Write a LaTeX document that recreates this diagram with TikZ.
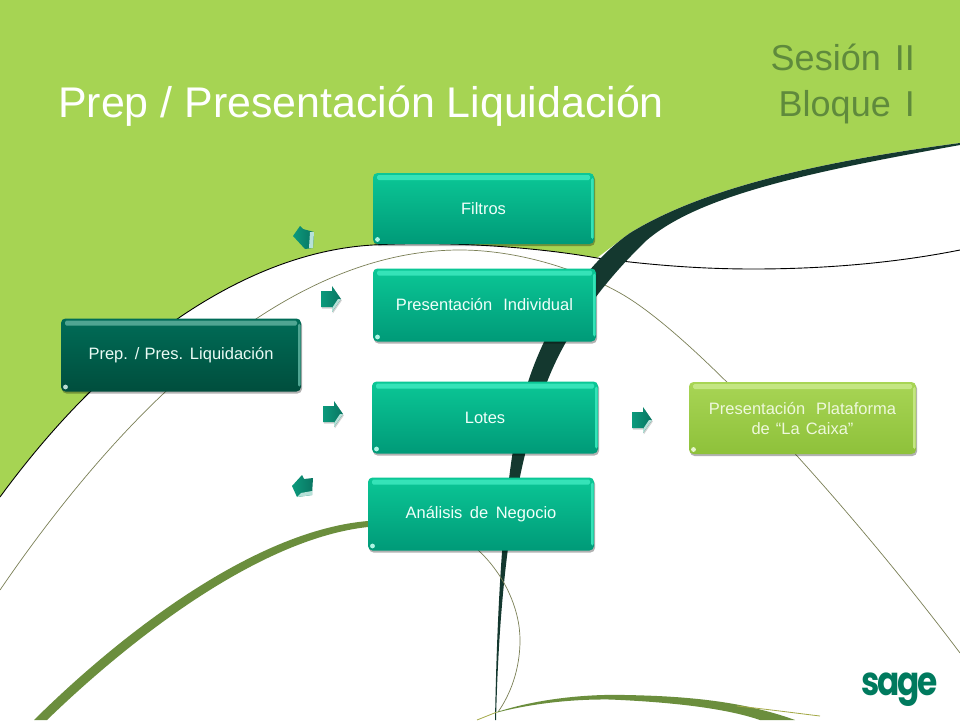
\documentclass[tikz,border=0pt]{standalone}
\usepackage{fontspec}
\usetikzlibrary{shadows}
\setmainfont{Liberation Sans}
\newfontfamily\lblfont{Liberation Sans}
\newfontfamily\logofont[LetterSpace=-7]{Poppins}
\definecolor{bggreen}{HTML}{A6D453}
\definecolor{darkband}{HTML}{14382F}
\definecolor{oliveband}{HTML}{6B8E3D}
\definecolor{thinline}{HTML}{7A7F55}
\definecolor{sesion}{HTML}{5F8A3C}
\definecolor{logogreen}{HTML}{007A5E}
\definecolor{arrowA}{HTML}{0B9A7C}
\definecolor{arrowB}{HTML}{0A7562}
\definecolor{tealT}{HTML}{0BC796}
\definecolor{tealB}{HTML}{009A78}
\definecolor{tealH}{HTML}{35E3B8}
\definecolor{tealX}{HTML}{F0FFFA}
\definecolor{deepT}{HTML}{006C57}
\definecolor{deepB}{HTML}{004E3D}
\definecolor{deepH}{HTML}{4FA592}
\definecolor{deepX}{HTML}{EAFBF5}
\definecolor{limeT}{HTML}{A8D555}
\definecolor{limeB}{HTML}{8EC13A}
\definecolor{limeH}{HTML}{C4E683}
\definecolor{limeX}{HTML}{EEF8DC}
\definecolor{swoosh}{HTML}{A3A845}
\tikzset{
  glossbox/.style args={#1/#2/#3/#4}{
    rounded corners=4.5pt, inner sep=0pt, align=center,
    font=\lblfont\fontsize{16.5}{20}\selectfont, text=#4,
    top color=#1, bottom color=#2,
    drop shadow={shadow xshift=1pt,shadow yshift=-2pt,opacity=.3,fill=black},
    path picture={
      \fill[#3,rounded corners=1.5pt] ([xshift=4pt,yshift=-2pt]path picture bounding box.north west) rectangle ([xshift=-4pt,yshift=-7pt]path picture bounding box.north east);
      \fill[#3,rounded corners=1.5pt] ([xshift=-3pt,yshift=-5pt]path picture bounding box.north east) rectangle ([xshift=-0.5pt,yshift=5pt]path picture bounding box.south east);
      \fill[white!60!#3] ([xshift=4.5pt,yshift=4.5pt]path picture bounding box.south west) circle (2.4pt);
    }},
  tealbox/.style={glossbox=tealT/tealB/tealH/tealX},
  deepbox/.style={glossbox=deepT/deepB/deepH/deepX},
  limebox/.style={glossbox=limeT/limeB/limeH/limeX},
  thincurve/.style={draw=thinline,line width=0.7pt},
  arrowfill/.style={left color=arrowA,right color=arrowB},
  rarrow/.pic={
    \fill[black,opacity=.18,xshift=0.8pt,yshift=-1.5pt] (-10,-8)--(1,-8)--(1,-13)--(10,0)--(1,13)--(1,8)--(-10,8)--cycle;
    \path[arrowfill] (-10,-8)--(1,-8)--(1,-13)--(10,0)--(1,13)--(1,8)--(-10,8)--cycle;
    \fill[white!70!arrowA] (10,0)--(1,13)--(1,9)--(7,0)--cycle;
  }
}
\begin{document}
\begin{tikzpicture}[x=1pt,y=-1pt]
\useasboundingbox (0,0) rectangle (960,720);
\fill[bggreen] (0,0) rectangle (960,720);
% white area under the sweeping curve
\fill[white] (0,497) .. controls (115,340) and (250,252) .. (373,245)
  .. controls (440,241) and (530,246) .. (597,258) -- (630,233)
  .. controls (700,190) and (810,163) .. (960,143)
  -- (960,720) -- (0,720) -- cycle;
% black edge and its continuation
\draw[black,line width=0.9pt] (0,497) .. controls (115,340) and (250,252) .. (373,245)
  .. controls (440,241) and (530,246) .. (597,258)
  .. controls (650,265) and (700,269) .. (753,269)
  .. controls (830,269) and (900,262) .. (960,250);
% olive thin curve
\draw[thincurve] (0,590) .. controls (130,400) and (290,250) .. (460,250)
  .. controls (510,250) and (570,265) .. (620,293)
  .. controls (700,338) and (860,520) .. (960,653);
% dark sweeping band
\fill[darkband] (960,143) .. controls (810,163) and (700,190) .. (630,233)
  .. controls (580,268) and (545,330) .. (528,382)
  .. controls (508,445) and (498,560) .. (495,720)
  -- (496,720) .. controls (499,600) and (510,480) .. (547,382)
  .. controls (565,335) and (600,285) .. (647,240)
  .. controls (700,195) and (810,172) .. (960,145) -- cycle;
% olive band lower left
\fill[oliveband] (34,720) .. controls (130,625) and (260,530) .. (368,521)
  -- (368,527) .. controls (265,538) and (140,630) .. (47,720) -- cycle;
% olive thin loop
\draw[thincurve] (478,550) .. controls (505,575) and (520,610) .. (520,640)
  .. controls (520,670) and (510,695) .. (498,712);
% bottom swoosh
\fill[oliveband] (497,712) .. controls (540,698) and (590,694) .. (625,695)
  .. controls (680,696) and (740,700) .. (795,720)
  -- (760,720) .. controls (725,708) and (670,702) .. (610,699.5)
  .. controls (570,699) and (530,704) .. (497,712.5) -- cycle;
\draw[draw=swoosh,line width=0.8pt] (477,720) -- (497,712);
\draw[draw=swoosh,line width=0.8pt] (737,706) .. controls (765,709) and (795,713) .. (820,716);
% titles
\node[anchor=base west,inner sep=0pt,text=white,font=\fontsize{42.9}{48}\selectfont] (title) at (58,117) {Prep / Presentación Liquidación};
\node[anchor=base east,inner sep=0pt,text=sesion,font=\fontsize{36}{36}\selectfont] (ses1) at (915,70) {\spaceskip=14pt Sesión II};
\node[anchor=base east,inner sep=0pt,text=sesion,font=\fontsize{36}{36}\selectfont] (ses2) at (915,116) {\spaceskip=14pt Bloque I};
% boxes
\node[tealbox,minimum width=221pt,minimum height=71pt] (filtros) at (483.5,208.5) {Filtros};
\node[tealbox,minimum width=223pt,minimum height=73pt] (indiv) at (484.5,305) {\spaceskip=11pt Presentación Individual};
\node[tealbox,minimum width=226pt,minimum height=72pt] (lotes) at (485,417.5) {Lotes};
\node[tealbox,minimum width=226pt,minimum height=73pt] (analisis) at (481,514) {\spaceskip=7.5pt Análisis de Negocio};
\node[deepbox,minimum width=240pt,minimum height=73pt] (prep) at (181,355) {\spaceskip=5.3pt Prep. / Pres. Liquidación};
\node[limebox,minimum width=227pt,minimum height=72pt] (plat) at (802.5,418) {\spaceskip=11pt Presentación Plataforma\\\spaceskip=6pt de “La Caixa”};
% arrows
\pic at (331,299) {rarrow};
\pic at (333,414) {rarrow};
\pic at (642,420) {rarrow};
\path[arrowfill] (293,236)--(300,226)--(303,229)--(314,232)--(313,248)--(305,249)--cycle;
\fill[white!70!arrowA] (310,232)--(314,232)--(313,248)--(309,248)--cycle;
\path[arrowfill] (292,486)--(302,475)--(304,479)--(313,478)--(312,495)--(297,497)--cycle;
\fill[white!70!arrowA] (297,497)--(312,495)--(312,491)--(301,493)--cycle;
% logo
\node[anchor=base,inner sep=0pt,text=logogreen,xscale=0.82,font=\logofont\fontsize{40}{40}\selectfont\bfseries] (logo) at (899.5,695) {sage};
\end{tikzpicture}
\end{document}
